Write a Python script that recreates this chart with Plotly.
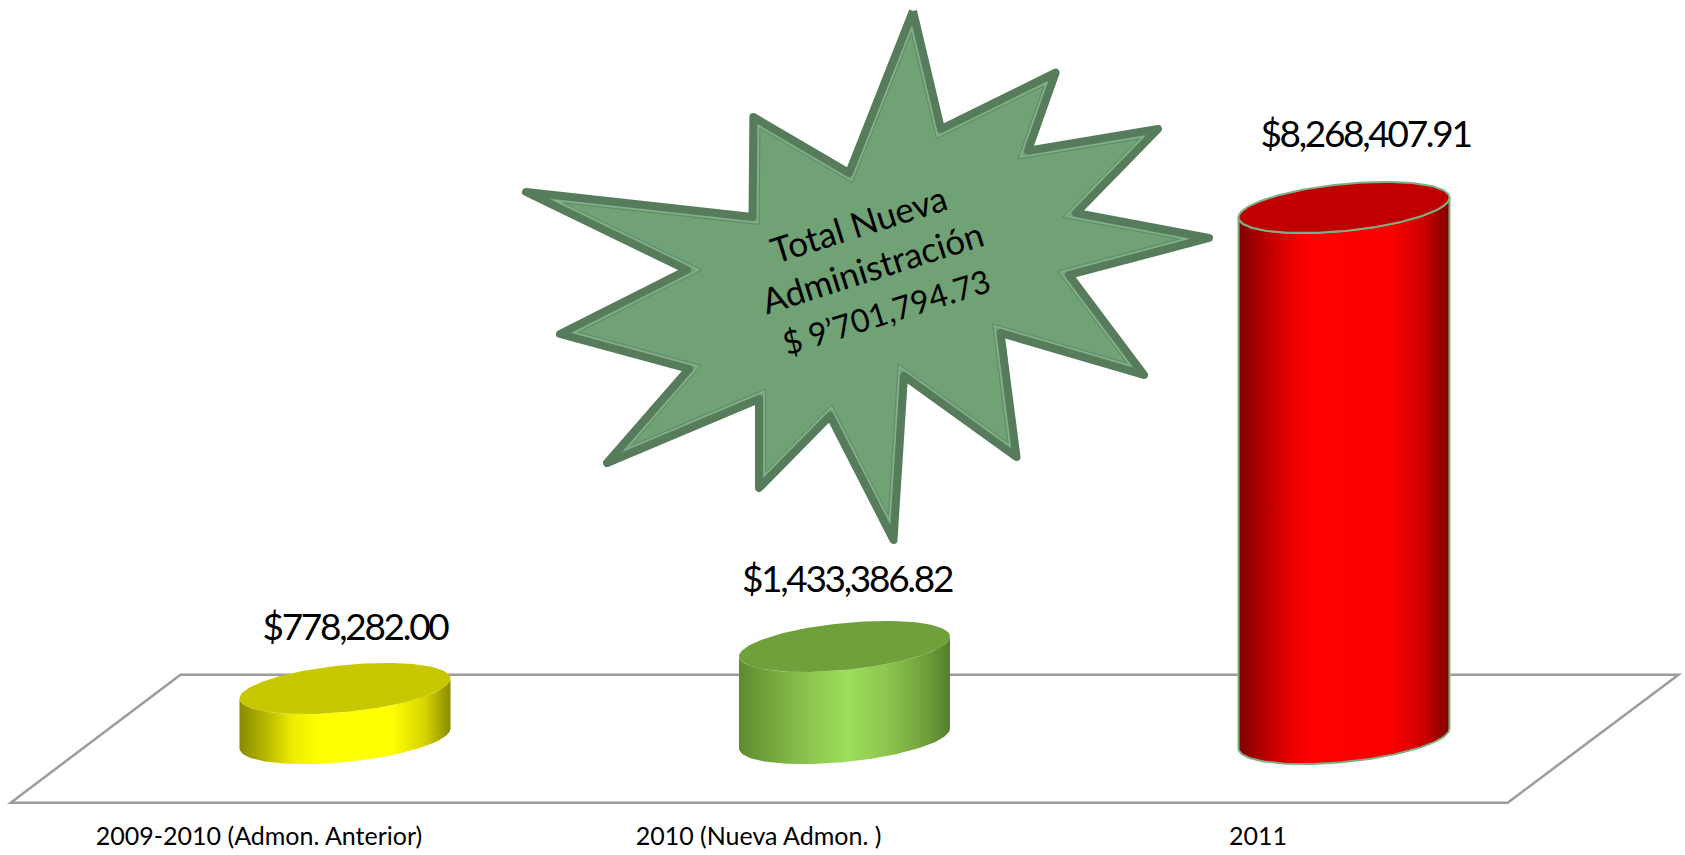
import numpy as np
import plotly.graph_objects as go

# ---- data ----
CATEGORIES = ["2009-2010 (Admon. Anterior)", "2010 (Nueva Admon. )", "2011"]
VALUES = [778282.00, 1433386.82, 8268407.91]
VALUE_LABELS = ["$778,282.00", "$1,433,386.82", "$8,268,407.91"]
CALLOUT_TEXT = "Total Nueva<br>Administración<br><span style=\"font-size:32px\">$ 9’701,794.73</span>"

# ---- styles ----
BODY_SCALES = [
    [[0, "#8a8a00"], [0.12, "#b5b500"], [0.25, "#ecec00"], [0.38, "#ffff00"], [0.72, "#ffff00"], [0.88, "#d5d500"], [1, "#8a8a00"]],
    [[0, "#5e8a2f"], [0.2, "#7cae42"], [0.35, "#8fc850"], [0.52, "#9cde5a"], [0.7, "#8dc64f"], [0.88, "#72a03b"], [1, "#557f2c"]],
    [[0, "#7e0000"], [0.12, "#b50000"], [0.25, "#ea0000"], [0.35, "#ff0000"], [0.72, "#fa0000"], [0.88, "#cc0000"], [1, "#7e0000"]],
]
TOP_COLORS = ["#c8c800", "#70a03c", "#c00000"]
OUTLINE = [None, None, "#7fae85"]
LABEL_FONT = "Lato"

# ---- geometry of the pseudo-3D view (pixels) ----
W, H, PLOT_BOTTOM = 1685, 855, 811
X0_PX, X_STEP_PX = 259.0, 499.5      # category 0 position and spacing
DEPTH_DX_PX = 86.0                    # cylinders sit deeper than the tick labels
BASE_PX = 738.5                       # pixel row of value 0 at cylinder base
PX_PER_VALUE = 531.0 / 8268407.91
RX_PX, RY_PX, SKEW_PX = 105.5, 23.5, -10.0
LABEL_DX = [10.0, 2.5, 21.5]
LABEL_DY = [58.0, 63.5, 69.5]

FLOOR_X = [10.7, 180.5, 1678.5, 1507.7]
FLOOR_Y = [802.7, 674.8, 674.8, 802.7]

STAR_X = [913, 941, 1055.6, 1028, 1158, 1076, 1209, 1069, 1144, 1000.5, 1016.5, 904,
          893.5, 830, 759, 759, 607, 689, 560, 687, 526, 752.5, 753.4, 849]
STAR_Y = [11, 129, 72.7, 150.7, 129, 213, 238, 275, 375, 333, 457, 376,
          540, 416, 488, 399, 463, 369, 334, 270, 192, 217, 117, 173]


def px_x(dx):
    return np.asarray(dx) / X_STEP_PX


def px_v(dy):
    return -np.asarray(dy) / PX_PER_VALUE


def inset_polygon(xs, ys, d):
    """Offset a closed polygon towards its interior by d pixels (mitred corners)."""
    p = np.column_stack([xs, ys]).astype(float)
    area = 0.5 * np.sum(p[:, 0] * np.roll(p[:, 1], -1) - np.roll(p[:, 0], -1) * p[:, 1])
    sign = 1.0 if area > 0 else -1.0
    out = []
    n = len(p)
    for i in range(n):
        a, b, c = p[i - 1], p[i], p[(i + 1) % n]
        u = (b - a) / np.linalg.norm(b - a)
        v = (c - b) / np.linalg.norm(c - b)
        nu = sign * np.array([-u[1], u[0]])
        nv = sign * np.array([-v[1], v[0]])
        m = nu + nv
        m = m / np.linalg.norm(m)
        out.append(b + m * d / np.dot(m, nu))
    out = np.array(out)
    return np.append(out[:, 0], out[0, 0]), np.append(out[:, 1], out[0, 1])


x_range = [(0 - X0_PX) / X_STEP_PX, (W - X0_PX) / X_STEP_PX]
y_range = [-(PLOT_BOTTOM - BASE_PX) / PX_PER_VALUE, BASE_PX / PX_PER_VALUE]

fig = go.Figure()
positions = list(range(len(CATEGORIES)))

for i, (pos, value) in enumerate(zip(positions, VALUES)):
    xc = pos + px_x(DEPTH_DX_PX)
    line = dict(width=0) if OUTLINE[i] is None else dict(color=OUTLINE[i], width=2)
    t_base = np.linspace(0, np.pi, 80)
    bx = xc + px_x(RX_PX * np.cos(t_base))
    bdy = RY_PX * np.sin(t_base) + SKEW_PX * np.cos(t_base)
    t_top = t_base[::-1]
    tx = xc + px_x(RX_PX * np.cos(t_top))
    tdy = RY_PX * np.sin(t_top) + SKEW_PX * np.cos(t_top)
    fig.add_trace(go.Scatter(
        x=np.concatenate([bx, tx, bx[:1]]),
        y=np.concatenate([px_v(bdy), value + px_v(tdy), px_v(bdy[:1])]),
        mode="lines", line=line, fill="toself",
        fillgradient=dict(type="horizontal", colorscale=BODY_SCALES[i]),
        hoverinfo="skip", showlegend=False,
    ))
    t = np.linspace(0, 2 * np.pi, 160)
    fig.add_trace(go.Scatter(
        x=xc + px_x(RX_PX * np.cos(t)),
        y=value + px_v(RY_PX * np.sin(t) + SKEW_PX * np.cos(t)),
        mode="lines", line=line, fill="toself", fillcolor=TOP_COLORS[i],
        hoverinfo="skip", showlegend=False,
    ))

# value labels
fig.add_trace(go.Scatter(
    x=[p + px_x(DEPTH_DX_PX + dx) for p, dx in zip(positions, LABEL_DX)],
    y=[v + px_v(-dy) for v, dy in zip(VALUES, LABEL_DY)],
    mode="text", text=VALUE_LABELS, textposition="middle center",
    textfont=dict(family=LABEL_FONT, size=37, color="#000000"),
    hoverinfo="skip", showlegend=False, cliponaxis=False,
))

# callout star on a pixel-aligned overlay
sx = STAR_X + STAR_X[:1]
sy = STAR_Y + STAR_Y[:1]
fig.add_trace(go.Scatter(
    x=sx, y=sy, xaxis="x2", yaxis="y2", mode="lines", fill="toself", fillcolor="#70a276",
    line=dict(color="#567c5b", width=8), hoverinfo="skip", showlegend=False,
))
for inset, color, width in [(5.0, "#86b08b", 1.3), (6.7, "#5f8c67", 1.0)]:
    ix, iy = inset_polygon(STAR_X, STAR_Y, inset)
    fig.add_trace(go.Scatter(
        x=ix, y=iy, xaxis="x2", yaxis="y2", mode="lines",
        line=dict(color=color, width=width), hoverinfo="skip", showlegend=False,
    ))

fig.add_annotation(
    x=872, y=266, xref="x2", yref="y2", text=CALLOUT_TEXT, showarrow=False, textangle=-17.5,
    font=dict(family=LABEL_FONT, size=35, color="#000000"), align="center",
)

fig.add_shape(
    type="path", xref="x2", yref="y2", layer="below",
    path="M " + " L ".join(f"{x},{y}" for x, y in zip(FLOOR_X, FLOOR_Y)) + " Z",
    line=dict(color="#9c9c9c", width=2.5), fillcolor="rgba(0,0,0,0)",
)

fig.update_layout(
    width=W, height=H, autosize=False, margin=dict(l=0, r=0, t=0, b=H - PLOT_BOTTOM),
    paper_bgcolor="#ffffff", plot_bgcolor="rgba(0,0,0,0)", showlegend=False,
    xaxis=dict(range=x_range, tickmode="array", tickvals=positions, ticktext=CATEGORIES,
               showgrid=False, zeroline=False, showline=False, ticks="",
               tickfont=dict(family=LABEL_FONT, size=25, color="#000000"), ticklabelstandoff=8),
    yaxis=dict(range=y_range, visible=False, showgrid=False, zeroline=False),
    xaxis2=dict(range=[0, W], overlaying="x", visible=False, anchor="y2"),
    yaxis2=dict(range=[PLOT_BOTTOM, 0], overlaying="y", visible=False, anchor="x2"),
)

fig.write_html("out.html", config={"displayModeBar": False},
               post_script=("document.body.style.margin='0';document.body.style.overflow='hidden';"
                            "document.querySelectorAll('.js-line').forEach(function(e){"
                            "e.style.strokeLinejoin='round';});"
                            "document.querySelectorAll('.textpoint text').forEach(function(e){"
                            "e.style.letterSpacing='-2.3px';});"))
